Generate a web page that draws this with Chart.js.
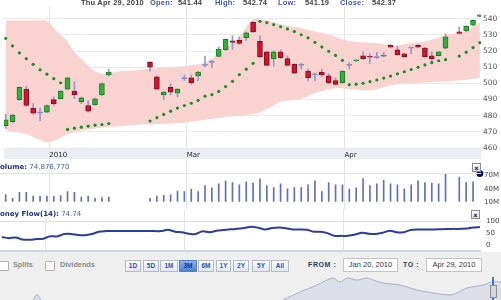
<!DOCTYPE html>
<html><head><meta charset="utf-8">
<script src="https://cdn.jsdelivr.net/npm/chart.js@4.4.1/dist/chart.umd.min.js"></script>
<style>
html,body{margin:0;padding:0;background:#fff;}
#wrap{position:relative;width:501px;height:300px;overflow:hidden;background:#fff;font-family:"Liberation Sans",Arial,sans-serif;}
canvas{position:absolute;left:0;}
.t{position:absolute;white-space:nowrap;line-height:10px;}
.hd{font-weight:bold;font-size:7.5px;top:-2px;color:#444;letter-spacing:0.2px;}
.hb{color:#3a58a8;}
.lbl{font-family:"DejaVu Sans",sans-serif;font-size:7px;}
.xb{position:absolute;width:7px;height:7px;border:1px solid #8a8a8a;background:linear-gradient(#fff,#d8d8d8);font:bold 6px "DejaVu Sans";line-height:7px;text-align:center;color:#222;}
#ctrl{position:absolute;left:0;top:252px;width:501px;height:48px;background:#efefef;}
.cb{position:absolute;top:9px;width:8px;height:8px;border:1px solid #b0b0b0;background:#fff;border-radius:1px;}
.ct{position:absolute;top:8px;font:bold 7.3px "Liberation Sans";color:#8a8a8a;line-height:10px;}
.bt{position:absolute;top:8px;height:10px;border:1px solid #b4bccc;background:linear-gradient(#ffffff,#e2e6ee);font:bold 6.5px "Liberation Sans";color:#2b52aa;line-height:10px;text-align:center;}
.bt.sel{background:linear-gradient(#8cb4ec,#4f82cf);color:#15338a;border-color:#5a7fc0;}
.ft{position:absolute;top:8px;font:bold 7px "Liberation Sans";color:#2c3c68;line-height:10px;letter-spacing:0.6px;}
.in{position:absolute;top:6px;height:12px;border:1px solid #c4c4c4;background:#fff;font:7.5px "Liberation Sans";color:#333;line-height:12px;text-align:center;}
</style></head><body>
<div id="wrap">
<canvas id="main" width="501" height="160" style="top:0"></canvas>
<canvas id="vol" width="501" height="49" style="top:160px"></canvas>
<canvas id="mf" width="501" height="45" style="top:209px"></canvas>
<div id="ctrl">
  <div class="cb" style="left:-1px"></div><div class="ct" style="left:13px">Splits</div>
  <div class="cb" style="left:45px"></div><div class="ct" style="left:60px">Dividends</div>
  <div class="bt" style="left:125px;width:14px">1D</div>
  <div class="bt" style="left:143px;width:14px">5D</div>
  <div class="bt" style="left:160px;width:16px">1M</div>
  <div class="bt sel" style="left:179px;width:16px">3M</div>
  <div class="bt" style="left:198px;width:14px">6M</div>
  <div class="bt" style="left:216px;width:13px">1Y</div>
  <div class="bt" style="left:233px;width:14px">2Y</div>
  <div class="bt" style="left:252px;width:16px">5Y</div>
  <div class="bt" style="left:271px;width:16px">All</div>
  <div class="ft" style="left:308px">FROM :</div>
  <div class="in" style="left:343px;width:53px">Jan 20, 2010</div>
  <div class="ft" style="left:403px">TO :</div>
  <div class="in" style="left:426px;width:54px">Apr 29, 2010</div>
</div>
<canvas id="nav" width="501" height="26" style="top:274px"></canvas>
<div style="position:absolute;left:492px;top:277px;width:2px;height:23px;background:#3b79d6"></div>
<div style="position:absolute;left:490px;top:285px;width:5px;height:11px;border:1px solid #8d8d8d;background:#d6d6d6"></div>

<div class="t hd" style="left:81px">Thu Apr 29, 2010</div>
<div class="t hd hb" style="left:150px">Open:</div>
<div class="t hd" style="left:178px">541.44</div>
<div class="t hd hb" style="left:215px">High:</div>
<div class="t hd" style="left:243px">542.74</div>
<div class="t hd hb" style="left:278px">Low:</div>
<div class="t hd" style="left:305px">541.19</div>
<div class="t hd hb" style="left:340px">Close:</div>
<div class="t hd" style="left:372px">542.37</div>

<div style="position:absolute;left:0;top:173px;width:481px;height:1px;background:#e2e2e2"></div>
<div class="t lbl" style="left:-5px;top:162px"><b style="color:#1f2f82">Volume:</b> <span style="color:#4060bb">74,876,770</span></div>
<div class="t lbl" style="left:-7px;top:209px"><b style="color:#1f2f82">Money Flow(14):</b> <span style="color:#4060bb">74.74</span></div>
<div class="xb" style="left:472px;top:163px">x</div>
<div class="xb" style="left:471px;top:210px">x</div>
<div style="position:absolute;left:0;top:250px;width:481px;height:2px;background:#cfd6e4"></div>
</div>
<script>
// ---------- data (70 trading-day slots, null = no data) ----------
const monthTicks  = [6.35, 26.35, 49.3];
const monthLabels = ['2010', 'Mar', 'Apr'];
const priceTicks  = [460, 470, 480, 490, 500, 510, 520, 530, 540];
const volTicks    = [10, 40, 70];
const volLabels   = ['10M', '40M', '70M'];
const mfTicks     = [0, 50, 100];

const openP = [473.9,476.3,489.9,496.4,484.6,481.6,482.2,489.9,490.5,496.4,495.2,488.7,486.3,486.9,492.8,505.3,
  null,null,null,null,null,
  513.0,504.1,492.8,497.6,494.0,502.9,503.5,504.7,511.2,513.0,516.7,520.7,526.3,526.6,528.3,537.8,526.0,519.5,515.3,519.5,
  515.3,511.8,511.2,507.6,505.3,507.0,504.7,501.7,500.5,511.2,513.9,517.1,516.8,515.9,516.9,523.6,520.7,518.3,521.8,523.6,
  521.8,517.1,517.1,521.8,null,531.9,532.5,536.0,541.44];
const highP = [481.0,481.0,498.0,498.2,487.5,484.6,486.8,491.7,495.6,503.9,501.1,491.7,489.3,491.0,500.3,508.8,
  null,null,null,null,null,
  513.6,504.5,495.0,499.9,496.8,505.3,505.3,507.4,516.9,514.2,522.6,527.6,529.5,528.9,531.7,538.2,529.5,520.0,520.1,520.7,
  517.1,512.2,512.4,508.8,506.4,508.8,505.9,503.5,508.0,513.0,514.7,519.5,518.3,519.3,519.0,524.0,523.0,518.7,522.2,524.0,
  522.4,519.5,519.9,530.7,null,534.9,535.8,539.4,542.74];
const lowP = [472.1,475.5,489.5,485.7,481.0,476.9,481.9,486.3,490.2,496.0,490.5,487.5,482.2,486.5,492.5,504.7,
  null,null,null,null,null,
  507.6,496.0,489.9,492.8,491.7,501.7,499.4,501.7,510.4,509.8,516.3,520.4,521.2,524.2,526.6,531.5,515.9,510.9,510.6,515.3,
  510.9,506.0,508.8,501.7,501.7,504.1,499.9,498.8,500.1,508.8,513.5,514.7,512.4,515.3,516.5,522.0,517.3,516.1,518.3,522.0,
  516.0,514.1,516.8,521.4,null,530.5,531.9,535.6,541.19];
const closeP = [477.5,480.4,497.6,486.3,481.6,481.6,486.3,487.5,495.2,503.5,492.8,491.1,482.8,490.5,499.9,507.0,
  null,null,null,null,null,
  510.0,496.4,494.6,494.6,496.4,502.9,500.5,507.0,511.2,513.0,521.2,527.2,525.3,524.8,531.3,531.9,516.5,511.2,519.5,515.9,
  511.2,506.4,511.2,503.5,505.3,505.3,500.5,499.4,507.6,511.2,514.4,515.3,516.2,515.9,517.4,522.4,517.7,516.5,521.8,522.4,
  516.5,515.3,519.5,528.9,null,530.9,535.4,539.0,542.37];
const bbUpper = [539.0,539.0,539.0,539.0,539.0,539.0,538.7,534.3,530.1,526.0,519.5,515.3,511.2,507.6,505.9,506.2,
  507.0,507.6,507.9,508.2,508.8,509.1,509.4,509.7,510.0,510.3,510.6,511.2,511.8,513.0,515.3,518.3,521.2,525.4,528.9,534.9,
  539.6,539.6,539.0,537.8,536.6,535.7,534.9,534.3,533.1,532.2,531.3,530.1,528.9,527.2,526.3,525.7,525.4,525.1,524.8,524.2,
  523.9,523.6,524.2,524.8,525.4,526.0,527.2,528.3,530.1,530.7,531.3,532.5,534.9,537.2];
const bbLower = [470.9,470.4,469.5,468.6,466.8,465.0,463.6,464.4,466.5,468.6,469.8,470.9,471.5,472.1,472.7,473.0,
  473.3,473.6,473.9,474.2,474.5,474.5,474.8,474.8,475.1,475.4,475.7,476.3,476.9,477.5,478.1,478.6,479.2,479.5,479.8,480.4,
  481.0,482.2,484.0,486.3,488.7,489.3,489.9,490.5,492.2,494.0,495.2,496.4,497.0,497.0,496.4,496.1,495.8,495.8,496.4,497.6,
  498.5,499.4,499.6,499.9,500.2,500.5,500.8,501.1,501.4,501.7,502.0,502.3,502.9,503.5];
const sarP = [527.9,523.2,518.9,515.3,511.8,508.4,505.7,502.9,500.4,471.5,472.3,472.9,473.5,474.1,474.5,475.1,
  null,null,null,null,null,
  476.7,478.8,480.8,482.8,484.7,486.3,487.7,489.5,492.1,493.0,495.0,498.0,501.3,505.4,508.8,512.4,
  538.4,537.6,536.4,535.0,533.7,532.1,530.1,528.2,525.4,522.6,519.9,517.3,514.3,
  499.2,499.5,500.1,501.1,502.1,503.3,504.5,505.9,507.2,508.6,510.0,511.4,512.8,514.0,514.7,null,516.9,519.3,522.2,525.2];
const volumeM = [26.4,18,32,32,23,23,23,23,24,33.5,32,21,23,18,19.4,21,
  null,null,null,null,null,
  18,23,25,26,34.7,33.5,39,33.5,47,42,51,58,54,49,56,
  53,63,47,42.5,51,40,42.5,42.5,49,58,33.5,54,49,49,39,42,63.5,47,51,59,51,49,40,49,58,54,53,51,74,
  null,67,54,56,null];
const lastVolumeM = 74.88;
const moneyFlow = [33,28,31,22,21,24,25.8,36,35,45,45.8,41,39.9,45,55,57.5,
  57.5,57.5,57.5,57.5,57.5,57.5,57.5,57.5,63.4,55.2,53,46,45.8,57,52.8,59,62,65,67,71,
  76,72,64.4,70.4,72.8,70,64.4,64.4,63.4,55.2,55,49,38,37.6,37.6,43,51,46,45.8,51,58.7,52.8,52.8,62,64,
  64.4,64.4,65,66,66.9,66.9,68,72.8,74.74];
const navDay = [0,30,33,37,41,45,275,283,300,317,333,340,347,357,367,373,383,400,417,433,450,457,467,483,492,501];
const navVal = [-4,-4,0,5.5,0,-4,-4,0,8,15,22,18,22,20,22,20,17,15,10,7,5,7,12,15,18,18];

// ---------- helpers ----------
const X_MIN = -0.245, X_MAX = 69.16;
function pts(arr){ const r=[]; arr.forEach((v,i)=>{ if(v!==null) r.push({x:i,y:v}); }); return r; }
const wickData=[], bodyData=[], bodyBg=[], bodyBd=[];
openP.forEach((o,i)=>{
  if(o===null) return;
  const c=closeP[i];
  wickData.push({x:i,y:[lowP[i],highP[i]]});
  bodyData.push({x:i,y:[o,c]});
  if(c>o){bodyBg.push('#31b03a');bodyBd.push('#1b7d25');}
  else if(c<o){bodyBg.push('#cb1531');bodyBd.push('#8c0b1f');}
  else {bodyBg.push('#7f88c4');bodyBd.push('#7f88c4');}
});
const volBars=[]; volumeM.forEach((v,i)=>{ if(v!==null) volBars.push({x:i,y:v}); });

const common = {responsive:false, animation:false, devicePixelRatio:1, events:[],
  plugins:{legend:{display:false}, tooltip:{enabled:false}}};
function fixTicks(list){ return s=>{ s.ticks = list.map(v=>({value:v})); }; }

const band = {id:'band', beforeDraw(chart){
  const a=chart.chartArea, c=chart.ctx; c.save(); c.fillStyle='#eceef5';
  c.fillRect(a.left, a.bottom, a.right-a.left, 11); c.restore(); }};
const vGrid = {id:'vGrid', beforeDatasetsDraw(chart){
  const c=chart.ctx, x=chart.scales.x; c.save(); c.strokeStyle='#e4e4e4'; c.lineWidth=1;
  monthTicks.forEach(v=>{ const p=Math.round(x.getPixelForValue(v)-0.5)+0.5; c.beginPath(); c.moveTo(p,0); c.lineTo(p,chart.height); c.stroke(); });
  c.restore(); }};

const xLinear = (extra)=>Object.assign({type:'linear', min:X_MIN, max:X_MAX, bounds:'data', offset:false, grid:{offset:false}}, extra);

// ---------- main price chart ----------
new Chart(document.getElementById('main'), {
  type:'bar',
  data:{datasets:[
    {type:'line', data:pts(bbUpper), fill:'+1', backgroundColor:'#f8d3cf', borderColor:'rgba(0,0,0,0)', borderWidth:0, pointRadius:0, tension:0.4, order:10},
    {type:'line', data:pts(bbLower), fill:false, borderColor:'rgba(0,0,0,0)', borderWidth:0, pointRadius:0, tension:0.4, order:9},
    {type:'bar', data:wickData, backgroundColor:'#939bd0', barThickness:1, grouped:false, order:5},
    {type:'bar', data:bodyData, backgroundColor:bodyBg, borderColor:bodyBd, borderWidth:1, borderSkipped:false, barThickness:5, grouped:false, minBarLength:1, order:4},
    {type:'line', data:pts(sarP), showLine:false, pointRadius:1.6, pointBackgroundColor:'#17902a', pointBorderWidth:0, order:1}
  ]},
  options:Object.assign({}, common, {
    layout:{padding:0},
    scales:{
      x: xLinear({
        grid:{offset:false, color:'#e3e3e3', drawTicks:false},
        border:{display:false},
        afterBuildTicks: fixTicks(monthTicks),
        afterFit: s=>{ s.height=12; },
        ticks:{autoSkip:false, maxRotation:0, align:'start', padding:3, color:'#2a2a2a',
               font:{family:'DejaVu Sans', size:7}, callback:(v,i)=>monthLabels[i]}
      }),
      y:{type:'linear', position:'right', min:460, max:547.6, bounds:'data',
        grid:{color:'#e8e8e8', drawTicks:false}, border:{display:false},
        afterBuildTicks: fixTicks(priceTicks),
        afterFit: s=>{ s.width=20; },
        ticks:{padding:2, color:'#555', font:{family:'DejaVu Sans', size:7.5}}}
    }
  }),
  plugins:[band]
});

// ---------- volume ----------
new Chart(document.getElementById('vol'), {
  type:'bar',
  data:{datasets:[
    {type:'bar', data:volBars, backgroundColor:'#5f70c2', barThickness:1, grouped:false, order:2},
    {type:'line', data:[{x:69,y:lastVolumeM}], showLine:false, pointRadius:3.5, pointBackgroundColor:'#0b195c', pointBorderWidth:0, clip:false, order:1}
  ]},
  options:Object.assign({}, common, {
    layout:{padding:{top:13, bottom:4.5}},
    scales:{
      x: xLinear({display:false}),
      y:{type:'linear', position:'right', min:10, max:76.1, bounds:'data',
        grid:{display:false, drawTicks:false}, border:{display:false},
        afterBuildTicks: fixTicks(volTicks),
        afterFit: s=>{ s.width=20; },
        ticks:{padding:3, color:'#444', font:{family:'DejaVu Sans', size:7}, callback:(v,i)=>volLabels[i]}}
    }
  }),
  plugins:[vGrid]
});

// ---------- money flow ----------
new Chart(document.getElementById('mf'), {
  type:'line',
  data:{datasets:[
    {data:pts(moneyFlow), borderColor:'#2c3d9c', borderWidth:2, pointRadius:0, tension:0.3, fill:false}
  ]},
  options:Object.assign({}, common, {
    layout:{padding:{top:12, bottom:5}},
    scales:{
      x: xLinear({display:false}),
      y:{type:'linear', position:'right', min:0, max:100, bounds:'data',
        grid:{drawTicks:false, color:c=> c.tick && c.tick.value===100 ? '#dedede' : 'rgba(0,0,0,0)'},
        border:{display:false},
        afterBuildTicks: fixTicks(mfTicks),
        afterFit: s=>{ s.width=20; },
        ticks:{padding:5, color:'#444', font:{family:'DejaVu Sans', size:7}}}
    }
  }),
  plugins:[vGrid]
});

// ---------- navigator ----------
new Chart(document.getElementById('nav'), {
  type:'line',
  data:{datasets:[
    {data:navDay.map((d,i)=>({x:d,y:navVal[i]})), borderColor:'#a9afbf', borderWidth:1, backgroundColor:'#dcdfe7', fill:'start', pointRadius:0, tension:0.3}
  ]},
  options:Object.assign({}, common, {
    layout:{padding:0},
    scales:{
      x:{type:'linear', display:false, min:0, max:501, bounds:'data'},
      y:{type:'linear', display:false, min:0, max:26, bounds:'data'}
    }
  })
});
</script>
</body></html>
